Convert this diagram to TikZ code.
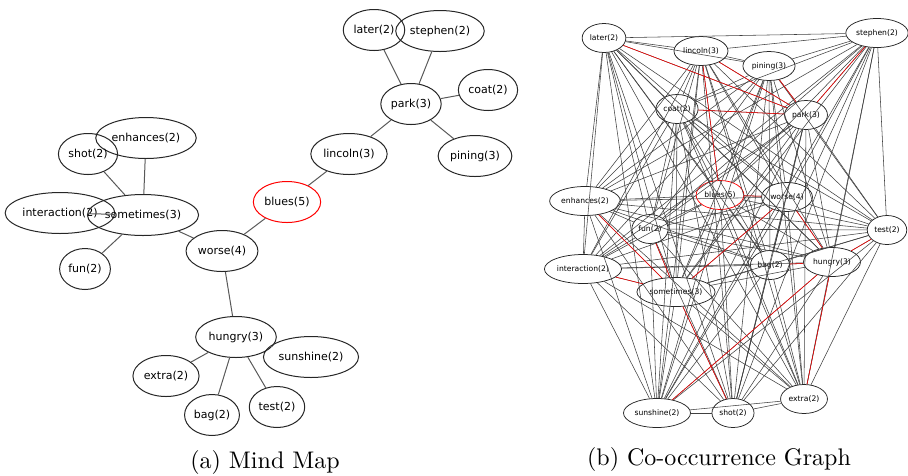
\documentclass[tikz,border=0pt]{standalone}
\usepackage{fontspec}
\newfontfamily\nodefont{DejaVu Sans}
\usetikzlibrary{shapes.geometric}

% tree edges of the mind map (also the strong links of the graph)
\newcommand\treeedges{later/park,stephen/park,coat/park,pining/park,lincoln/park,
  lincoln/blues,blues/worse,worse/sometimes,enhances/sometimes,shot/sometimes,
  interaction/sometimes,fun/sometimes,worse/hungry,extra/hungry,bag/hungry,
  test/hungry,sunshine/hungry}
\newcommand\allwords{later,lincoln,pining,stephen,coat,park,enhances,blues,worse,
  fun,test,interaction,bag,hungry,sometimes,sunshine,shot,extra}

\begin{document}
\begin{tikzpicture}
			[x=0.4pt,y=-0.4pt,
			 mind/.style={ellipse,draw=black!85,line width=0.4pt,inner xsep=0.5pt,inner ysep=0pt,
			   minimum height=16.4pt,font=\nodefont\fontsize{4.4}{5}\selectfont},
			 cooc/.style={ellipse,draw=black!85,line width=0.3pt,inner xsep=0.5pt,inner ysep=0pt,
			   minimum height=11.6pt,font=\nodefont\fontsize{3.05}{3.5}\selectfont},
			 connect/.style={draw=black!65,line width=0.4pt},
			 co/.style={draw=black!75,line width=0.22pt},
			 hot/.style={draw=red,line width=0.22pt},
			 caption/.style={font=\fontsize{9.6}{11}\selectfont}]
			\useasboundingbox (0,0) rectangle (908,475);

			% (a) mind map
			\node[mind] (a-later) at (374,30) {later(2)};
			\node[mind] (a-stephen) at (440,31) {stephen(2)};
			\node[mind] (a-park) at (411,104) {park(3)};
			\node[mind] (a-coat) at (488,90) {coat(2)};
			\node[mind] (a-lincoln) at (349,154) {lincoln(3)};
			\node[mind] (a-pining) at (475,156) {pining(3)};
			\node[mind,draw=red] (a-blues) at (287,202) {blues(5)};
			\node[mind] (a-enhances) at (146,138) {enhances(2)};
			\node[mind] (a-shot) at (88,154) {shot(2)};
			\node[mind] (a-interaction) at (60,213) {interaction(2)};
			\node[mind] (a-sometimes) at (143,215) {sometimes(3)};
			\node[mind] (a-worse) at (222,251) {worse(4)};
			\node[mind] (a-fun) at (85,269) {fun(2)};
			\node[mind] (a-hungry) at (236,337) {hungry(3)};
			\node[mind] (a-sunshine) at (311,357) {sunshine(2)};
			\node[mind] (a-extra) at (166,376) {extra(2)};
			\node[mind] (a-bag) at (212,415) {bag(2)};
			\node[mind] (a-test) at (277,407) {test(2)};
			\foreach \u/\v in \treeedges
			  {\draw[connect] (a-\u) -- (a-\v);}
			\node[caption] (cap-a) at (265,462) {(a) Mind Map};

			% (b) co-occurrence graph
			\node[cooc] (b-later) at (604,38) {later(2)};
			\node[cooc] (b-lincoln) at (701,51) {lincoln(3)};
			\node[cooc] (b-pining) at (769,66) {pining(3)};
			\node[cooc] (b-stephen) at (877,33) {stephen(2)};
			\node[cooc] (b-coat) at (677,109) {coat(2)};
			\node[cooc] (b-park) at (806,115) {park(3)};
			\node[cooc] (b-enhances) at (585,201) {enhances(2)};
			\node[cooc,draw=red] (b-blues) at (720,195) {blues(5)};
			\node[cooc] (b-worse) at (787,197) {worse(4)};
			\node[cooc] (b-fun) at (650,229) {fun(2)};
			\node[cooc] (b-test) at (887,230) {test(2)};
			\node[cooc] (b-interaction) at (583,269) {interaction(2)};
			\node[cooc] (b-bag) at (770,265) {bag(2)};
			\node[cooc] (b-hungry) at (832,262) {hungry(3)};
			\node[cooc] (b-sometimes) at (676,292) {sometimes(3)};
			\node[cooc] (b-sunshine) at (657,413) {sunshine(2)};
			\node[cooc] (b-shot) at (733,413) {shot(2)};
			\node[cooc] (b-extra) at (804,399) {extra(2)};
			\foreach \u [count=\i] in \allwords
			  \foreach \v [count=\j] in \allwords
			    {\ifnum\j>\i \draw[co] (b-\u) -- (b-\v); \fi}
			\foreach \u/\v in \treeedges
			  {\draw[hot] (b-\u) -- (b-\v);}
			\node[caption] (cap-b) at (719,459) {(b) Co-occurrence Graph};
		\end{tikzpicture}
\end{document}
